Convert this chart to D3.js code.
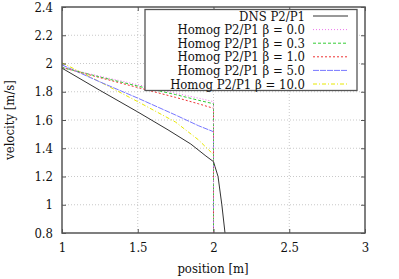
<!DOCTYPE html>
<html>
<head>
<meta charset="utf-8">
<script src="https://cdn.jsdelivr.net/npm/d3@7"></script>
<style>
  body { margin: 0; background: #fff; }
</style>
</head>
<body>
<svg id="chart" width="399" height="279"></svg>
<script>
// data
var homogX = [1, 1.25, 1.5, 1.75, 1.9, 2, 2];
var dnsX = [1, 1.25, 1.5, 1.7, 1.85, 1.95, 2, 2.01, 2.03, 2.055, 2.076, 2.09];
var dnsY = [1.967, 1.81, 1.657, 1.53, 1.43, 1.345, 1.305, 1.27, 1.2, 1.0, 0.8, 0.7];
var beta00 = [1.972, 1.91, 1.85, 1.79, 1.755, 1.73, 0.5];
var beta03 = [1.972, 1.905, 1.84, 1.78, 1.74, 1.715, 0.5];
var beta10 = [1.972, 1.90, 1.83, 1.76, 1.715, 1.683, 0.5];
var beta50 = [1.99, 1.87, 1.755, 1.635, 1.56, 1.517, 0.5];
var beta100 = [2.005, 1.87, 1.73, 1.585, 1.46, 1.355, 0.5];
var xTicks = [1, 1.5, 2, 2.5, 3];
var yTicks = [0.8, 1, 1.2, 1.4, 1.6, 1.8, 2, 2.2, 2.4];

var series = [
  { label: "DNS P2/P1", xs: dnsX, ys: dnsY, color: "#333", dash: null },
  { label: "Homog P2/P1 β = 0.0", xs: homogX, ys: beta00, color: "#ee77ee", dash: "1,2" },
  { label: "Homog P2/P1 β = 0.3", xs: homogX, ys: beta03, color: "#33cc33", dash: "3,2" },
  { label: "Homog P2/P1 β = 1.0", xs: homogX, ys: beta10, color: "#ee3333", dash: "2,2" },
  { label: "Homog P2/P1 β = 5.0", xs: homogX, ys: beta50, color: "#7777ff", dash: "6,1" },
  { label: "Homog P2/P1 β = 10.0", xs: homogX, ys: beta100, color: "#e8e800", dash: "4,2,1,2" }
];

var FONT = "'DejaVu Serif Condensed', 'DejaVu Serif', serif";
var FS = 13;
var svg = d3.select("#chart");
var x = d3.scaleLinear().domain([1, 3]).range([62, 365]);
var y = d3.scaleLinear().domain([0.8, 2.4]).range([233, 7]);

svg.append("defs").append("clipPath").attr("id", "clip")
  .append("rect").attr("x", 62).attr("y", 7).attr("width", 303).attr("height", 226);

// grid
var grid = svg.append("g").attr("stroke", "#bbb").attr("stroke-width", 0.8).attr("stroke-dasharray", "1,2");
grid.selectAll(".gx").data(xTicks.slice(1, -1)).join("line")
  .attr("x1", d => x(d)).attr("x2", d => x(d)).attr("y1", 7).attr("y2", 233);
grid.selectAll(".gy").data(yTicks.slice(1, -1)).join("line")
  .attr("y1", d => y(d)).attr("y2", d => y(d)).attr("x1", 62).attr("x2", 365);

// lines
var line = d3.line().x(d => x(d[0])).y(d => y(d[1]));
var plot = svg.append("g").attr("clip-path", "url(#clip)");
series.slice().reverse().forEach(function(s) {
  plot.append("path")
    .attr("d", line(s.xs.map((v, i) => [v, s.ys[i]])))
    .attr("fill", "none").attr("stroke", s.color).attr("stroke-width", 1)
    .attr("stroke-dasharray", s.dash);
});

// axes: ticks inward, mirrored
var ax = svg.append("g");
ax.append("g").attr("transform", "translate(0,233)")
  .call(d3.axisBottom(x).tickValues(xTicks).tickSize(-4).tickPadding(10).tickFormat(d3.format("")));
ax.append("g").attr("transform", "translate(0,7)")
  .call(d3.axisTop(x).tickValues(xTicks).tickSize(-4).tickFormat(""));
ax.append("g").attr("transform", "translate(62,0)")
  .call(d3.axisLeft(y).tickValues(yTicks).tickSize(-4).tickPadding(9).tickFormat(d3.format("")));
ax.append("g").attr("transform", "translate(365,0)")
  .call(d3.axisRight(y).tickValues(yTicks).tickSize(-4).tickFormat(""));
ax.selectAll(".domain").remove();
ax.selectAll("g").attr("font-family", FONT).attr("font-size", FS);
ax.selectAll(".tick line").attr("stroke", "#555");
ax.selectAll("text").attr("fill", "#111");

// legend
var lg = svg.append("g").attr("font-family", FONT).attr("font-size", FS);
lg.append("rect").attr("x", 145).attr("y", 9.5).attr("width", 212).attr("height", 81)
  .attr("fill", "#fff").attr("stroke", "#555").attr("stroke-width", 1.3);
series.forEach(function(s, i) {
  var yy = 16 + i * 13.6;
  lg.append("text").attr("x", 305).attr("y", yy).attr("dy", "0.35em")
    .attr("text-anchor", "end").attr("fill", "#111").text(s.label);
  lg.append("line").attr("x1", 313).attr("x2", 348).attr("y1", yy).attr("y2", yy)
    .attr("stroke", s.color).attr("stroke-width", 1).attr("stroke-dasharray", s.dash);
});

// frame
svg.append("rect").attr("x", 62).attr("y", 7).attr("width", 303).attr("height", 226)
  .attr("fill", "none").attr("stroke", "#555").attr("stroke-width", 1.5);

// axis titles
var titles = svg.append("g").attr("font-family", FONT).attr("font-size", FS).attr("fill", "#111");
titles.append("text").attr("x", 213).attr("y", 268).attr("dy", "0.35em")
  .attr("text-anchor", "middle").text("position [m]");
titles.append("text").attr("transform", "translate(9,120) rotate(-90)").attr("dy", "0.35em")
  .attr("text-anchor", "middle").text("velocity [m/s]");
</script>
</body>
</html>
